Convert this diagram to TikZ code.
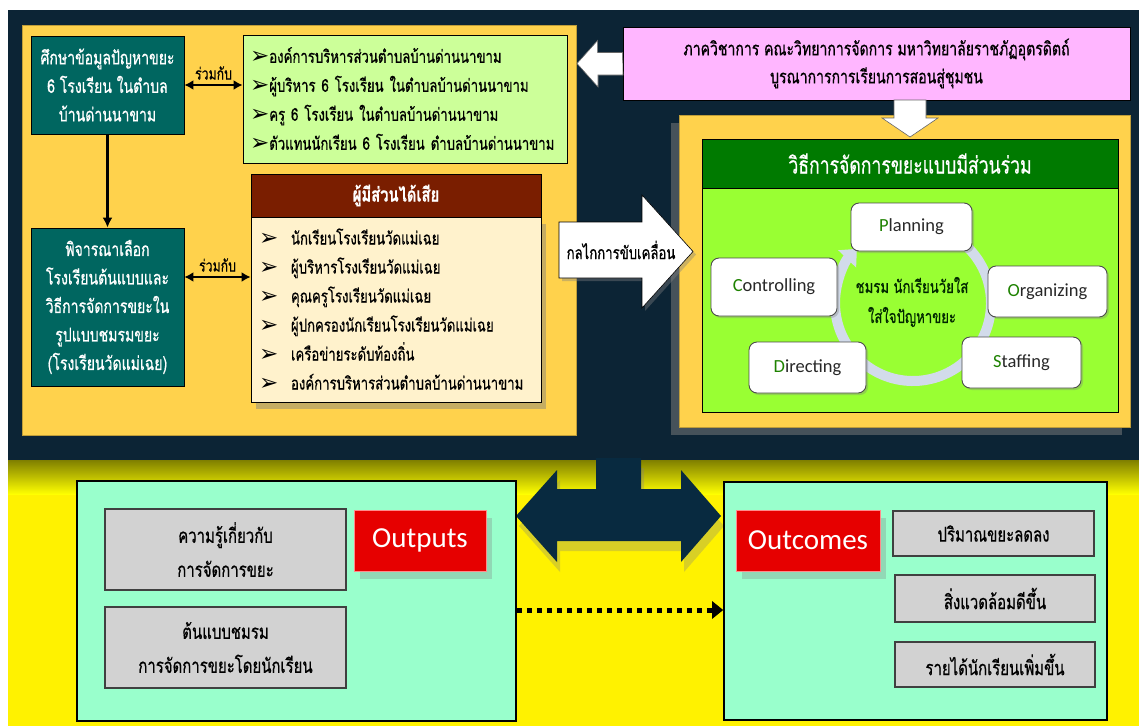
\documentclass[tikz,border=0pt]{standalone}
\usepackage{fontspec}
\usetikzlibrary{arrows.meta,shadows,calc}
\newfontfamily\thai[Script=Thai,FakeStretch=0.74,FakeBold=0.6]{Loma}
\newfontfamily\dingfont{DejaVu Sans}
\newfontfamily\latin{Carlito}
\newcommand{\fs}[2]{\fontsize{#1}{#2}\selectfont}
\newcommand{\bul}{{\dingfont\fs{23}{23}\raisebox{-1pt}{➢}}}

\definecolor{panelnavy}{RGB}{12,36,53}
\definecolor{gold}{RGB}{255,210,76}
\definecolor{tealbox}{RGB}{0,102,96}
\definecolor{palegreen}{RGB}{204,255,153}
\definecolor{maroonhead}{RGB}{122,30,0}
\definecolor{cream}{RGB}{255,242,204}
\definecolor{pinkbox}{RGB}{255,182,255}
\definecolor{hdrgreen}{RGB}{0,122,0}
\definecolor{limefill}{RGB}{153,255,51}
\definecolor{ringgray}{RGB}{210,219,234}
\definecolor{mint}{RGB}{153,255,204}
\definecolor{graybox}{RGB}{210,210,210}
\definecolor{redbox}{RGB}{230,0,0}
\definecolor{arrownavy}{RGB}{8,42,64}
\definecolor{initgreen}{RGB}{30,130,0}
\definecolor{labelgray}{RGB}{40,40,40}

\begin{document}
\begin{tikzpicture}[x=1pt,y=-1pt,
  rect/.style={draw, rectangle, inner sep=0pt, align=center},
  goldpanel/.style={rect, fill=gold, draw=gold!75!black, line width=0.6pt},
  tealnode/.style={rect, fill=tealbox, draw=black, line width=0.8pt, text=white,
    font=\thai\fs{19}{28.5}},
  listbox/.style={rect, draw=black, line width=0.8pt, align=left,
    font=\thai\fs{17.8}{29}},
  twoway/.style={{Latex[length=9pt,width=10pt]}-{Latex[length=9pt,width=10pt]}, line width=2.6pt},
  oneway/.style={-{Latex[length=10pt,width=10pt]}, line width=2.6pt},
  withlbl/.style={font=\thai\fs{16.6}{15}, text=black, inner sep=1pt},
  cyclebox/.style={rect, fill=white, draw=black!70, line width=0.9pt, rounded corners=8pt,
    font=\latin\fs{18.5}{20}, text=labelgray,
    drop shadow={shadow xshift=2pt, shadow yshift=-2pt, opacity=0.35}},
  mintpanel/.style={rect, fill=mint, draw=black, line width=1.6pt},
  resultbox/.style={rect, fill=graybox, draw=black!75, line width=1.1pt,
    font=\thai\fs{20.2}{34}},
  redlabel/.style={rect, fill=redbox, draw=red!45, line width=0.8pt, text=white,
    font=\latin\fs{29}{30},
    drop shadow={shadow xshift=6pt, shadow yshift=-8pt, opacity=0.3}},
  whitearrow/.style={fill=white, draw=black!60, line width=0.6pt},
]
\useasboundingbox (0,0) rectangle (1139,726);
\fill[white] (0,0) rectangle (1139,726);

% lower yellow band with the panel's cast shadow
\fill[yellow] (8,460) rectangle (1139,726);
\shade[top color=olive, bottom color=yellow] (8,460) rectangle (1139,494);
% upper dark panel
\fill[panelnavy] (8,10) rectangle (1139,460);

% ---------------- left gold panel ----------------
\node[goldpanel, minimum width=554pt, minimum height=410pt] (leftpanel) at (299,230) {};

\node[tealnode, minimum width=153pt, minimum height=98pt] (study) at (107.5,85)
  {ศึกษาข้อมูลปัญหาขยะ\\6 โรงเรียน ในตำบล\\บ้านด่านนาขาม};

\node[listbox, fill=palegreen, minimum width=324pt, minimum height=128pt, text width=310pt] (partners) at (405,99)
  {\bul องค์การบริหารส่วนตำบลบ้านด่านนาขาม\\
   \bul ผู้บริหาร 6 โรงเรียน ในตำบลบ้านด่านนาขาม\\
   \bul ครู 6 โรงเรียน ในตำบลบ้านด่านนาขาม\\
   \bul ตัวแทนนักเรียน 6 โรงเรียน ตำบลบ้านด่านนาขาม};

\node[tealnode, minimum width=153pt, minimum height=158pt] (select) at (107.5,307)
  {พิจารณาเลือก\\โรงเรียนต้นแบบและ\\วิธีการจัดการขยะใน\\รูปแบบชมรมขยะ\\(โรงเรียนวัดแม่เฉย)};

% stakeholders
\node[listbox, fill=cream, minimum width=290pt, minimum height=185pt, text width=274pt,
  drop shadow={shadow xshift=5pt, shadow yshift=-7pt, opacity=0.45}] (stakebody) at (396,309.5)
  {\makebox[32pt][l]{\bul}นักเรียนโรงเรียนวัดแม่เฉย\\
   \makebox[32pt][l]{\bul}ผู้บริหารโรงเรียนวัดแม่เฉย\\
   \makebox[32pt][l]{\bul}คุณครูโรงเรียนวัดแม่เฉย\\
   \makebox[32pt][l]{\bul}ผู้ปกครองนักเรียนโรงเรียนวัดแม่เฉย\\
   \makebox[32pt][l]{\bul}เครือข่ายระดับท้องถิ่น\\
   \makebox[32pt][l]{\bul}องค์การบริหารส่วนตำบลบ้านด่านนาขาม};
\node[rect, fill=maroonhead, draw=black, line width=0.8pt, text=white,
  font=\thai\bfseries\fs{20}{20}, minimum width=290pt, minimum height=43pt] (stakehead) at (396,195.5)
  {ผู้มีส่วนได้เสีย};

% connectors inside the left panel
\draw[twoway] (study.east) -- (study.east -| partners.west)
  node[midway, above=3pt, withlbl] (with1) {ร่วมกับ};
\path (select.east) ++(0,-30) coordinate (s2);
\draw[twoway] (s2) -- (s2 -| stakebody.west)
  node[midway, above=3pt, withlbl] (with2) {ร่วมกับ};
\draw[oneway] (study.south) -- (select.north);

% ---------------- department box ----------------
\node[rect, fill=pinkbox, draw=black, line width=0.8pt, font=\thai\fs{19}{28},
  minimum width=507pt, minimum height=73pt] (dept) at (876.5,63.5)
  {ภาควิชาการ คณะวิทยาการจัดการ มหาวิทยาลัยราชภัฏอุตรดิตถ์\\บูรณาการการเรียนการสอนสู่ชุมชน};

% ---------------- right gold panel ----------------
\node[goldpanel, minimum width=451pt, minimum height=312pt,
  drop shadow={shadow xshift=-8pt, shadow yshift=-8pt, opacity=0.5}] (rightpanel) at (904.5,271) {};
\node[rect, fill=limefill, draw=black, line width=0.8pt, minimum width=416pt, minimum height=224pt] (cyclearea) at (910,300) {};
\node[rect, fill=hdrgreen, draw=black, line width=0.8pt, text=white, font=\thai\fs{23.8}{22},
  minimum width=416pt, minimum height=49pt] (method) at (910,163.5) {วิธีการจัดการขยะแบบมีส่วนร่วม};

% management cycle
\draw[ringgray, line width=10pt, -{Triangle[length=14pt,width=24pt]}]
  ([shift={(913,303)}]-55:78) arc[start angle=-55, end angle=224, radius=78];
\node[font=\thai\fs{17.8}{30}, text=black!85!green, align=center] (club) at (912,302)
  {ชมรม นักเรียนวัยใส\\ใส่ใจปัญหาขยะ};
\node[cyclebox, minimum width=121pt, minimum height=48pt] (plan) at (911.5,227) {\textcolor{initgreen}{P}lanning};
\node[cyclebox, minimum width=119pt, minimum height=51pt] (org) at (1047.5,291.5) {\textcolor{initgreen}{O}rganizing};
\node[cyclebox, minimum width=119pt, minimum height=51pt] (staff) at (1021.5,362.5) {\textcolor{initgreen}{S}taffing};
\node[cyclebox, minimum width=117pt, minimum height=51pt] (direct) at (807.5,367.5) {\textcolor{initgreen}{D}irecting};
\node[cyclebox, minimum width=126pt, minimum height=58pt] (control) at (774,287) {\textcolor{initgreen}{C}ontrolling};

% block arrows from the department box
\filldraw[whitearrow] (dept.west) ++(0,-11) -- ++(-25,0) -- ++(0,-12) -- (577,63.5) -- (598,87) -- ++(0,-12) -- ++(25,0) -- cycle;
\filldraw[whitearrow] (894,100) -- (894,118) -- (882,118) -- (910,137) -- (938,118) -- (926,118) -- (926,100) -- cycle;

% driving mechanism arrow
\filldraw[whitearrow, draw=black, drop shadow={shadow xshift=3pt, shadow yshift=-3pt, opacity=0.4}]
  (559,222) -- (642,222) -- (642,195) -- (693,251.5) -- (642,308) -- (642,278) -- (559,278) -- cycle;
\node[font=\thai\fs{17.8}{16}, text=black, inner sep=0pt] (drive) at (621,250) {กลไกการขับเคลื่อน};

% ---------------- outputs and outcomes ----------------
\fill[arrownavy, drop shadow={shadow xshift=3pt, shadow yshift=-10pt, opacity=0.3}]
  (516,516) -- (557,470) -- (557,489) -- (596,489) -- (596,458) -- (641,458) -- (641,489)
  -- (681,489) -- (681,470) -- (721,516) -- (681,562) -- (681,541) -- (557,541) -- (557,562) -- cycle;

\node[mintpanel, minimum width=439pt, minimum height=240pt] (outpanel) at (296.5,601) {};
\node[mintpanel, minimum width=383pt, minimum height=238pt] (incomepanel) at (915.5,601) {};

\node[resultbox, minimum width=241pt, minimum height=81pt] (know) at (225.5,549.5) {ความรู้เกี่ยวกับ\\การจัดการขยะ};
\node[resultbox, minimum width=241pt, minimum height=81pt] (model) at (225.5,647.5) {ต้นแบบชมรม\\การจัดการขยะโดยนักเรียน};
\node[redlabel, minimum width=132pt, minimum height=61pt] (outputs) at (420,540.5) {Outputs};

\node[redlabel, minimum width=144pt, minimum height=61pt] (outcomes) at (808,540.5) {Outcomes};
\node[resultbox, minimum width=201pt, minimum height=45pt] (less) at (993.5,533.5) {ปริมาณขยะลดลง};
\node[resultbox, minimum width=200pt, minimum height=47pt] (env) at (995,598.5) {สิ่งแวดล้อมดีขึ้น};
\node[resultbox, minimum width=200pt, minimum height=45pt] (income) at (995,664.5) {รายได้นักเรียนเพิ่มขึ้น};

\path (outpanel.east) ++(0,9) coordinate (d0);
\draw[line width=5pt, dash pattern=on 5pt off 5pt, -{Triangle[length=11pt,width=17pt]}]
  (d0) -- (d0 -| incomepanel.west);
\end{tikzpicture}
\end{document}
